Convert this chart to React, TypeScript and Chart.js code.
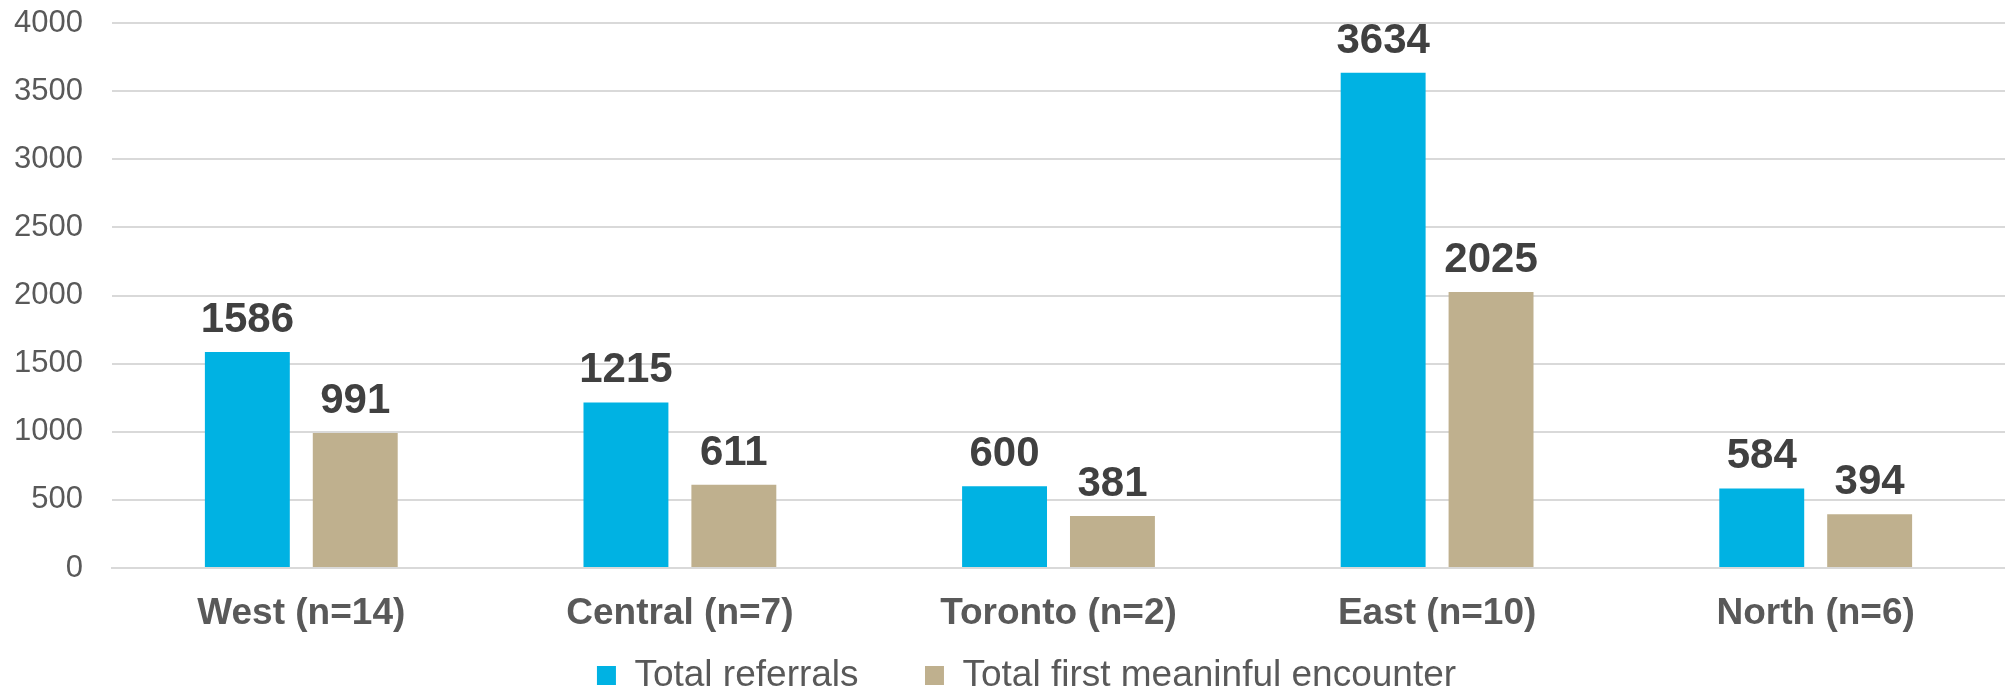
import React, { useEffect, useRef } from "react";
import { Chart, registerables } from "chart.js";

Chart.register(...registerables);

const categories = ["West (n=14)", "Central (n=7)", "Toronto (n=2)", "East (n=10)", "North (n=6)"];
const totalReferrals = [1586, 1215, 600, 3634, 584];
const firstEncounter = [991, 611, 381, 2025, 394];
const seriesNames = ["Total referrals", "Total first meaninful encounter"];
const yTicks = [0, 500, 1000, 1500, 2000, 2500, 3000, 3500, 4000];

const FONT = '"Liberation Sans", Arial, Helvetica, sans-serif';
const LEGEND_SHIFT = 13;

const valueLabels = {
  id: "valueLabels",
  afterDatasetsDraw(chart: any) {
    const ctx = chart.ctx;
    ctx.save();
    ctx.font = `bold 42px ${FONT}`;
    ctx.fillStyle = "#404040";
    ctx.textAlign = "center";
    ctx.textBaseline = "alphabetic";
    chart.data.datasets.forEach((ds: any, i: number) => {
      const meta = chart.getDatasetMeta(i);
      meta.data.forEach((el: any, j: number) => {
        ctx.fillText(String(ds.data[j]), el.x, el.y - 20);
      });
    });
    ctx.restore();
  },
};

const legendShift = {
  id: "legendShift",
  afterLayout(chart: any) {
    if (chart.legend) {
      chart.legend.left += LEGEND_SHIFT;
      chart.legend.right += LEGEND_SHIFT;
    }
  },
};

export default function App() {
  const ref = useRef<HTMLCanvasElement | null>(null);
  useEffect(() => {
    document.body.style.margin = "0";
    if (!ref.current) return;
    const chart = new Chart(ref.current, {
      type: "bar",
      data: {
        labels: categories,
        datasets: [
          {
            label: seriesNames[0],
            data: totalReferrals,
            backgroundColor: "#00B2E3",
            categoryPercentage: 0.57,
            barPercentage: 0.787,
          },
          {
            label: seriesNames[1],
            data: firstEncounter,
            backgroundColor: "#BFB08E",
            categoryPercentage: 0.57,
            barPercentage: 0.787,
          },
        ],
      },
      options: {
        animation: false,
        responsive: true,
        maintainAspectRatio: false,
        layout: { padding: { top: 0, left: 13, right: -9, bottom: -12 } },
        plugins: {
          tooltip: { enabled: false },
          legend: {
            position: "bottom",
            labels: {
              boxWidth: 19,
              boxHeight: 19,
              padding: 15,
              color: "#595959",
              font: { family: FONT, size: 37 },
              generateLabels: (chart: any) => {
                const items = Chart.defaults.plugins.legend.labels.generateLabels(chart);
                return items.map((it: any, i: number) =>
                  i < items.length - 1 ? { ...it, text: it.text + "     " } : it
                );
              },
            },
          },
        },
        scales: {
          x: {
            grid: { display: false, drawTicks: false },
            border: { display: true, color: "#d9d9d9", width: 2 },
            afterFit: (scale: any) => {
              scale.height = 74;
            },
            ticks: {
              color: "#595959",
              padding: 24,
              font: { family: FONT, size: 37, weight: "bold" },
            },
          },
          y: {
            min: 0,
            max: 4000,
            afterBuildTicks: (scale: any) => {
              scale.ticks = yTicks.map((v) => ({ value: v }));
            },
            afterFit: (scale: any) => {
              scale.width = 99;
              scale.paddingTop = 23;
              scale.paddingBottom = 0;
            },
            grid: { color: "#d9d9d9", lineWidth: 2, drawTicks: false },
            border: { display: false },
            ticks: {
              color: "#595959",
              padding: 29,
              font: { family: FONT, size: 31 },
              callback: (v: any) => String(v),
            },
          },
        },
      },
      plugins: [valueLabels, legendShift],
    });
    return () => chart.destroy();
  }, []);
  return (
    <div style={{ width: 2005, height: 692, position: "relative" }}>
      <canvas ref={ref} />
    </div>
  );
}
